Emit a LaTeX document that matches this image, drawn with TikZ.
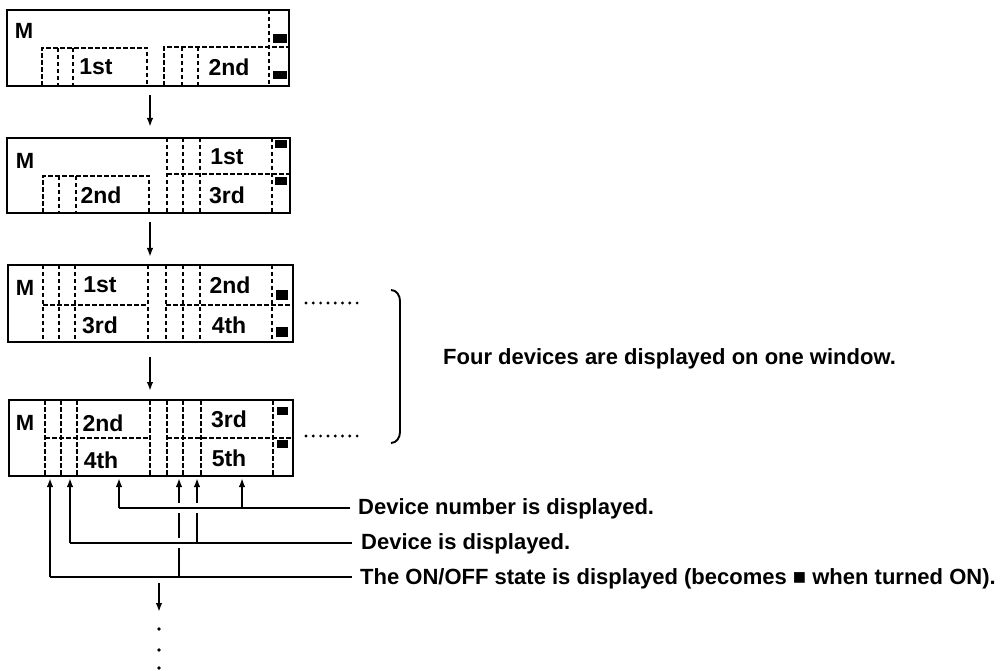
\documentclass[tikz,border=0pt]{standalone}
\usepackage{fontspec}
\setmainfont{Liberation Sans}
\usetikzlibrary{arrows.meta}
\begin{document}
\begin{tikzpicture}[x=1pt,y=-1pt,
  frame/.style={line width=2.3pt},
  dsh/.style={line width=1.5pt, dash pattern=on 4.5pt off 2.5pt},
  lamp/.style={fill=black},
  boxtxt/.style={font=\fontsize{23}{26}\selectfont\bfseries, inner sep=0pt},
  mtxt/.style={font=\fontsize{22}{26}\selectfont\bfseries, inner sep=0pt},
  lbl/.style={font=\fontsize{22}{26}\selectfont\bfseries, inner sep=0pt, anchor=base west},
  conn/.style={line width=1.8pt},
  arr/.style={line width=1.8pt, -{Latex[length=9pt,width=6.5pt]}},
  dotmark/.style={fill=black}
]
\useasboundingbox (0,0) rectangle (1005,671);

% ---------- Box 1 ----------
\draw[frame] (7,10) rectangle (289,86);
\draw[dsh] (269,10) -- (269,86);
\draw[dsh] (42,86) -- (42,48) -- (147,48) -- (147,86);
\draw[dsh] (58,48) -- (58,86);
\draw[dsh] (73,48) -- (73,86);
\draw[dsh] (164,86) -- (164,47) -- (289,47);
\draw[dsh] (182,47) -- (182,86);
\draw[dsh] (198,47) -- (198,86);
\fill[lamp] (273,34) rectangle (287,43);
\fill[lamp] (273,71) rectangle (287,79);
\node[mtxt] (m1) at (24,31) {M};
\node[boxtxt] (b1a) at (96,67) {1st};
\node[boxtxt] (b1b) at (229,67) {2nd};

% ---------- Box 2 ----------
\draw[frame] (7,138) rectangle (290,213);
\foreach \x in {167,183,200,272} \draw[dsh] (\x,138) -- (\x,213);
\draw[dsh] (167,174) -- (290,174);
\draw[dsh] (43,213) -- (43,176) -- (149,176) -- (149,213);
\draw[dsh] (59,176) -- (59,213);
\draw[dsh] (76,176) -- (76,213);
\fill[lamp] (275,140) rectangle (287,148);
\fill[lamp] (275,177) rectangle (287,185);
\node[mtxt] (m2) at (25,161) {M};
\node[boxtxt] (b2a) at (227,157) {1st};
\node[boxtxt] (b2b) at (227,195) {3rd};
\node[boxtxt] (b2c) at (101,195) {2nd};

% ---------- Box 3 ----------
\draw[frame] (8,265) rectangle (293,342);
\foreach \x in {43,59,75,148,166,183,200,272} \draw[dsh] (\x,265) -- (\x,342);
\draw[dsh] (43,305) -- (148,305);
\draw[dsh] (166,305) -- (293,305);
\fill[lamp] (276,290) rectangle (288,300);
\fill[lamp] (276,327) rectangle (288,337);
\node[mtxt] (m3) at (25,288) {M};
\node[boxtxt] (b3a) at (100,285) {1st};
\node[boxtxt] (b3b) at (100,325) {3rd};
\node[boxtxt] (b3c) at (230,285) {2nd};
\node[boxtxt] (b3d) at (229,325) {4th};

% ---------- Box 4 ----------
\draw[frame] (9,400) rectangle (293,476);
\foreach \x in {45,61,77,150,167,183,201,273} \draw[dsh] (\x,400) -- (\x,476);
\draw[dsh] (45,438) -- (150,438);
\draw[dsh] (167,438) -- (293,438);
\fill[lamp] (277,407) rectangle (288,415);
\fill[lamp] (277,440) rectangle (288,448);
\node[mtxt] (m4) at (25,423) {M};
\node[boxtxt] (b4a) at (103,423) {2nd};
\node[boxtxt] (b4b) at (101,460) {4th};
\node[boxtxt] (b4c) at (229,419) {3rd};
\node[boxtxt] (b4d) at (229,458) {5th};

% ---------- transitions between boxes ----------
\coordinate (s1) at (150,95);  \coordinate (t1) at (150,127);
\coordinate (s2) at (150,222); \coordinate (t2) at (150,257);
\coordinate (s3) at (150,357); \coordinate (t3) at (150,391);
\draw[arr] (s1) -- (t1);
\draw[arr] (s2) -- (t2);
\draw[arr] (s3) -- (t3);

% ---------- dotted continuations and brace ----------
\foreach \i in {0,...,7} {
  \fill[dotmark] (306+7.3*\i,303) circle (1.6pt);
  \fill[dotmark] (306+7.3*\i,436) circle (1.6pt);
}
\coordinate (brtop) at (391,290);
\coordinate (brbot) at (391,443);
\draw[line width=1.9pt] (brtop) to[out=0,in=90] (400,301) -- (400,432) to[out=-90,in=0] (brbot);
\node[lbl] (four) at (443,365) {Four devices are displayed on one window.};

% ---------- explanation connectors ----------
\coordinate (tipA) at (50,478);  \coordinate (tipB) at (70,478);
\coordinate (tipC) at (119,478); \coordinate (tipD) at (179,478);
\coordinate (tipE) at (197,478); \coordinate (tipF) at (242,478);
\coordinate (l1a) at (119,508); \coordinate (l1b) at (242,508); \coordinate (l1e) at (350,508);
\coordinate (l2a) at (70,543);  \coordinate (l2b) at (197,543); \coordinate (l2e) at (352,543);
\coordinate (l3a) at (50,577);  \coordinate (l3b) at (179,577); \coordinate (l3e) at (352,577);

% line 1: device number
\draw[conn] (l1a) -- (l1e);
\draw[arr] (l1a) -- (tipC);
\draw[arr] (l1b) -- (tipF);
% line 2: device
\draw[conn] (l2a) -- (l2e);
\draw[arr] (l2a) -- (tipB);
\draw[conn] (l2b) -- (197,513);
\draw[arr] (197,503) -- (tipE);
% line 3: ON/OFF state
\draw[conn] (l3a) -- (l3e);
\draw[arr] (l3a) -- (tipA);
\draw[conn] (l3b) -- (179,548);
\draw[conn] (179,538) -- (179,513);
\draw[arr] (179,503) -- (tipD);

\node[lbl] (txtnum) at (358,514) {Device number is displayed.};
\node[lbl] (txtdev) at (361,549) {Device is displayed.};
\node[lbl] (txtonoff) at (360,584) {The ON/OFF state is displayed (becomes ■ when turned ON).};

% ---------- continuation ----------
\coordinate (cs) at (159,583); \coordinate (ct) at (159,612);
\draw[arr] (cs) -- (ct);
\fill[dotmark] (159,629) circle (1.8pt);
\fill[dotmark] (159,650) circle (1.8pt);
\fill[dotmark] (159,668) circle (1.8pt);
\end{tikzpicture}
\end{document}
